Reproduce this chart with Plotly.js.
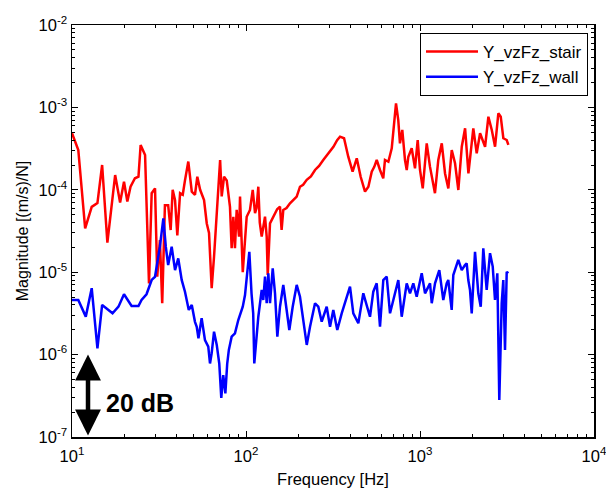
<!DOCTYPE html>
<html>
<head>
<meta charset="utf-8">
<script src="https://cdn.plot.ly/plotly-3.0.1.min.js"></script>
<style>html,body{margin:0;padding:0;background:#fff;}#chart{width:606px;height:488px;}</style>
</head>
<body>
<div id="chart"></div>
<script>
// ---- data ----
const stairFreq = [10, 10.87, 11.9, 12.98, 14.0, 14.9, 15.97, 17.7, 18.9, 19.9, 20.8, 21.7, 23.0, 24.1, 24.8, 26.3, 27.7, 28.7, 30.0, 30.9, 32.0, 33.0, 34.2, 35.7, 36.9, 37.9, 39.1, 40.3, 41.8, 43.3, 44.6, 46.6, 48.8, 50.9, 52.5, 54.5, 57.4, 59.5, 61.3, 63.5, 65.5, 67.9, 71.0, 72.5, 74.8, 77.5, 80.9, 82.7, 84.6, 86.4, 88.4, 91.2, 92.4, 95.8, 98.7, 100.9, 105.4, 109.3, 112.7, 115, 117.7, 120, 123.1, 128.6, 131.5, 133.3, 137.4, 142, 146.8, 151, 156.8, 160.2, 163.8, 171, 179, 187, 195.6, 204.3, 213, 223.4, 236, 249.3, 263, 278, 298, 318, 334, 347, 366, 387, 410, 433, 456, 483, 505, 528, 546, 564, 589, 615, 629, 658, 688, 710, 728, 750, 767, 791, 820, 839, 857, 896, 936, 970, 1000, 1037, 1093, 1141, 1219, 1274, 1334, 1393, 1455, 1522, 1590, 1661, 1738, 1816, 1898, 2025, 2118, 2214, 2366, 2472, 2585, 2700, 2820, 2911, 3013, 3150, 3220];
const stairMag = [4.85e-4, 3.04e-4, 3.4e-5, 6.2e-5, 6.9e-5, 2.0e-4, 2.28e-5, 1.51e-4, 7.0e-5, 1.25e-4, 7.2e-5, 1.09e-4, 1.38e-4, 1.44e-4, 3.5e-4, 2.64e-4, 7.3e-6, 9.1e-5, 1.04e-4, 8.8e-6, 2.46e-5, 4.2e-6, 6.5e-5, 6.5e-5, 3.25e-5, 1.0e-4, 7.5e-5, 2.8e-5, 9.1e-5, 8.7e-5, 1.3e-4, 2.2e-4, 9.5e-5, 8.7e-5, 1.44e-4, 1.0e-4, 7.5e-5, 3.9e-5, 3.0e-5, 6.4e-6, 1.54e-5, 5.7e-5, 2.3e-4, 8.3e-5, 1.44e-4, 1.3e-4, 6.2e-5, 1.95e-5, 4.7e-5, 1.95e-5, 5.7e-5, 2.7e-5, 8.3e-5, 1.0e-5, 3.0e-5, 4.7e-5, 5.7e-5, 1.0e-4, 5.2e-5, 6.0e-5, 1.09e-4, 4.0e-5, 2.7e-5, 4.72e-5, 2.7e-5, 9.25e-6, 3.92e-5, 4.5e-5, 5.19e-5, 5.8e-5, 6.24e-5, 3.25e-5, 5.69e-5, 6.0e-5, 6.85e-5, 7.5e-5, 8.26e-5, 1.09e-4, 1.15e-4, 1.32e-4, 1.45e-4, 1.74e-4, 1.95e-4, 2.3e-4, 2.8e-4, 3.33e-4, 4.0e-4, 4.41e-4, 4.22e-4, 2.52e-4, 1.66e-4, 2.41e-4, 1.44e-4, 9.5e-5, 1.09e-4, 1.66e-4, 1.9e-4, 2.3e-4, 1.74e-4, 1.38e-4, 2.3e-4, 2.19e-4, 3.19e-4, 6.0e-4, 1.12e-3, 7.03e-4, 3.66e-4, 5.32e-4, 2.3e-4, 1.74e-4, 2.52e-4, 3.19e-4, 1.82e-4, 4.02e-4, 1.74e-4, 1.04e-4, 3.66e-4, 1.91e-4, 9.08e-5, 2.3e-4, 3.66e-4, 1.58e-4, 1.04e-4, 3.04e-4, 2.1e-4, 9.95e-5, 3.33e-4, 5.57e-4, 1.58e-4, 5.57e-4, 2.77e-4, 4.85e-4, 3.33e-4, 7.71e-4, 5.32e-4, 3.33e-4, 8.47e-4, 7.71e-4, 4.22e-4, 4.02e-4, 3.5e-4];

const wallFreq = [10, 10.87, 12.0, 12.98, 14.0, 14.9, 17.1, 18.5, 19.9, 22.0, 24.1, 25.1, 26.8, 28.7, 30.0, 32.0, 33.5, 34.6, 35.7, 37.4, 39.1, 40.8, 42.7, 44.6, 46.9, 48.8, 50.9, 52.1, 53.3, 55.6, 58.1, 60.7, 62.1, 63.5, 65.5, 67.9, 70.2, 72.1, 74.0, 76.1, 78.0, 79.7, 82.7, 86.4, 90.3, 95.8, 98.7, 101.8, 104.5, 107.6, 110, 111.6, 116, 117.7, 123.1, 125.7, 128.6, 131.5, 134.4, 137.4, 142.4, 146.8, 151.4, 156.8, 163.8, 171.4, 177.4, 185.5, 195.6, 204.3, 213.4, 223.4, 233.3, 249.3, 260.3, 272.3, 290.9, 304.0, 317.5, 334.7, 354.8, 379.1, 396.0, 413.7, 442.1, 472.2, 494.0, 515.9, 539.0, 563.8, 589.1, 615.4, 643.7, 672.5, 702.6, 750.5, 784.9, 838.6, 876.0, 915.1, 957.2, 1023, 1069, 1142, 1168, 1220, 1291, 1361, 1423, 1454, 1521, 1554, 1660, 1737, 1814, 1855, 1895, 1938, 1983, 2071, 2163, 2234, 2311, 2417, 2526, 2618, 2698, 2782, 2856, 2948, 3011, 3080, 3150, 3217];
const wallMag = [4.6e-6, 4.6e-6, 2.89e-6, 6.4e-6, 1.19e-6, 4.0e-6, 3.17e-6, 3.82e-6, 5.4e-6, 3.89e-6, 3.89e-6, 4.6e-6, 5.4e-6, 8.05e-6, 8.8e-6, 2.04e-5, 4.5e-5, 2.04e-5, 1.22e-5, 2.04e-5, 1.06e-5, 1.47e-5, 8.05e-6, 5.8e-6, 3.48e-6, 4.0e-6, 2.5e-6, 2.18e-6, 1.58e-6, 2.76e-6, 1.5e-6, 1.25e-6, 7.8e-7, 1.04e-6, 1.9e-6, 1.31e-6, 7.8e-7, 2.98e-7, 5.65e-7, 3.39e-7, 7.8e-7, 1.14e-6, 1.65e-6, 1.81e-6, 2.63e-6, 3.82e-6, 5.28e-6, 9.7e-6, 1.77e-5, 5.5e-6, 3.17e-6, 7.8e-7, 2.0e-6, 2.88e-6, 6.08e-6, 4.6e-6, 8.82e-6, 4.2e-6, 9.7e-6, 4.2e-6, 1.11e-5, 5.54e-6, 1.65e-6, 3.81e-6, 7.0e-6, 3.17e-6, 1.99e-6, 3.81e-6, 7.0e-6, 5.04e-6, 2.63e-6, 1.31e-6, 2.18e-6, 4.2e-6, 3.81e-6, 2.51e-6, 3.81e-6, 2.18e-6, 3.48e-6, 1.99e-6, 3.17e-6, 5.04e-6, 6.68e-6, 3.17e-6, 2.4e-6, 5.54e-6, 3.81e-6, 2.88e-6, 5.8e-6, 7.33e-6, 2.18e-6, 8.04e-6, 8.82e-6, 3.17e-6, 4.6e-6, 8.04e-6, 2.88e-6, 7.33e-6, 5.54e-6, 7.33e-6, 5.04e-6, 9.7e-6, 5.54e-6, 7.33e-6, 4.2e-6, 7.33e-6, 1.06e-5, 4.6e-6, 7.33e-6, 8.04e-6, 3.48e-6, 9.25e-6, 1.41e-5, 1.06e-5, 1.22e-5, 1.28e-5, 8.04e-6, 6.08e-6, 3.17e-6, 1.77e-5, 5.54e-6, 3.81e-6, 1.95e-5, 6.08e-6, 1.7e-5, 1.17e-5, 4.6e-6, 9.7e-6, 2.81e-7, 4.2e-6, 8.04e-6, 1.14e-6, 1.01e-5, 9.7e-6];

const seriesNames = ['Y_vzFz_stair', 'Y_vzFz_wall'];
const xTickVals = [10, 100, 1000, 10000];
const xTickText = ['10<sup>1</sup>', '10<sup>2</sup>', '10<sup>3</sup>', '10<sup>4</sup>'];
const yTickVals = [1e-7, 1e-6, 1e-5, 1e-4, 1e-3, 1e-2];
const yTickText = ['10<sup>-7</sup>', '10<sup>-6</sup>', '10<sup>-5</sup>', '10<sup>-4</sup>', '10<sup>-3</sup>', '10<sup>-2</sup>'];
const xMinor = [20,30,40,50,60,70,80,90,200,300,400,500,600,700,800,900,2000,3000,4000,5000,6000,7000,8000,9000];
const yMinor = [];
[1e-7,1e-6,1e-5,1e-4,1e-3].forEach(d => { for (let k = 2; k <= 9; k++) yMinor.push(k*d); });

// annotation: 20 dB scale arrow (one decade)
const arrowFreq = 12.36, arrowTop = 1e-6, arrowBottom = 1e-7;
const labelFreq = 15.3, labelMag = 2.6e-7;

const FONT = 'Liberation Sans, Arial, sans-serif';

const traces = [
  {x: stairFreq, y: stairMag, name: seriesNames[0], type: 'scatter', mode: 'lines',
   line: {color: '#ff0000', width: 2.5}},
  {x: wallFreq, y: wallMag, name: seriesNames[1], type: 'scatter', mode: 'lines',
   line: {color: '#0000ff', width: 2.5}}
];

const axisCommon = {
  type: 'log', showgrid: false, zeroline: false, showline: true, linecolor: '#000', linewidth: 1.5,
  mirror: 'allticks', ticks: 'inside', ticklen: 6, tickwidth: 1, tickcolor: '#000',
  tickfont: {family: FONT, size: 16.5, color: '#000'}, automargin: false, ticklabeloverflow: 'allow'
};

const layout = {
  width: 606, height: 488,
  margin: {l: 72, r: 12, t: 25, b: 51},
  paper_bgcolor: '#fff', plot_bgcolor: '#fff',
  font: {family: FONT, color: '#000'},
  showlegend: true,
  legend: {x: 0.9885, y: 0.9806, xanchor: 'right', yanchor: 'top', bgcolor: '#fff',
           bordercolor: '#000', borderwidth: 1, font: {family: FONT, size: 17, color: '#000'},
           itemwidth: 52, tracegroupgap: 0},
  xaxis: Object.assign({}, axisCommon, {
    range: [1, 4], tickmode: 'array', tickvals: xTickVals, ticktext: xTickText, ticklabelstandoff: 4,
    minor: {tickmode: 'array', tickvals: xMinor, ticks: 'inside', ticklen: 3, tickcolor: '#000', showgrid: false},
    title: {text: 'Frequency [Hz]', font: {family: FONT, size: 16.5, color: '#000'}, standoff: 9}
  }),
  yaxis: Object.assign({}, axisCommon, {
    range: [-7, -2], tickmode: 'array', tickvals: yTickVals, ticktext: yTickText,
    minor: {tickmode: 'array', tickvals: yMinor, ticks: 'inside', ticklen: 3, tickcolor: '#000', showgrid: false},
    title: {text: 'Magnitude [(m/s)/N]', font: {family: FONT, size: 16, color: '#000'}, standoff: 6}
  }),
  annotations: [
    {x: Math.log10(arrowFreq), y: Math.log10(arrowTop), ax: Math.log10(arrowFreq), ay: Math.log10(arrowBottom),
     xref: 'x', yref: 'y', axref: 'x', ayref: 'y', text: '', showarrow: true,
     arrowhead: 2, arrowside: 'end+start', arrowwidth: 4.5, arrowsize: 1.15, arrowcolor: '#000', standoff: 0, startstandoff: 0},
    {x: Math.log10(labelFreq), y: Math.log10(labelMag), xref: 'x', yref: 'y', xanchor: 'left', yanchor: 'middle',
     text: '<b>20 dB</b>', showarrow: false, font: {family: FONT, size: 25, color: '#000'}}
  ]
};

Plotly.newPlot('chart', traces, layout, {displayModeBar: false, staticPlot: true});
</script>
</body>
</html>
